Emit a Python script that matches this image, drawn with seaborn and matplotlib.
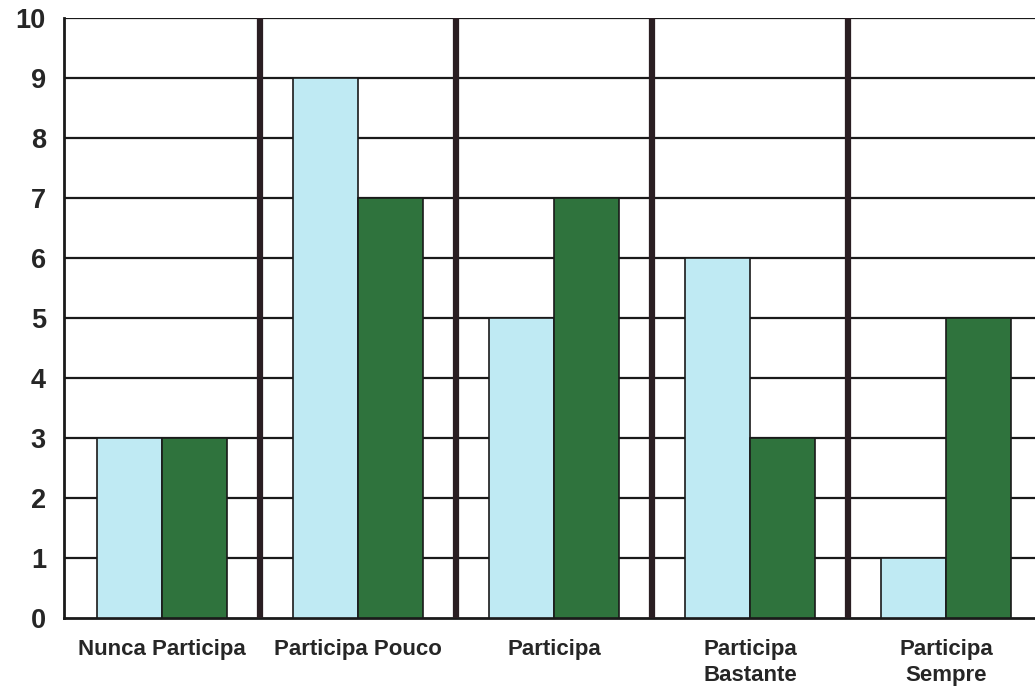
import matplotlib
matplotlib.use("Agg")
import matplotlib.pyplot as plt
import seaborn as sns
import pandas as pd
import numpy as np

categories = ["Nunca Participa", "Participa Pouco", "Participa",
              "Participa\nBastante", "Participa\nSempre"]
series_names = ["A", "B"]
values_a = [3, 9, 5, 6, 1]
values_b = [3, 7, 7, 3, 5]
y_ticks = list(range(0, 11))

df = pd.DataFrame({
    "categoria": categories * 2,
    "serie": [series_names[0]] * len(categories) + [series_names[1]] * len(categories),
    "valor": values_a + values_b,
})

sns.set_style("white")
plt.rcParams["font.family"] = ["Liberation Sans", "DejaVu Sans"]

fig = plt.figure(figsize=(10.35, 6.86), dpi=100)
fig.patch.set_facecolor("white")
ax = fig.add_axes([64 / 1035, 68 / 686, 980 / 1035, 600 / 686])

palette = {series_names[0]: "#bfeaf3", series_names[1]: "#2f733d"}
sns.barplot(data=df, x="categoria", y="valor", hue="serie", order=categories,
            hue_order=series_names, palette=palette, width=0.663, gap=0,
            edgecolor="#1a1a1a", linewidth=1.2, saturation=1, legend=False,
            ax=ax, zorder=3)

ax.set_ylim(0, 10)
ax.set_xlim(-0.5, len(categories) - 0.5)
ax.set_yticks(y_ticks)
ax.set_yticklabels([str(t) for t in y_ticks], fontsize=19.5, fontweight="bold")
ax.set_xlabel("")
ax.set_ylabel("")

# horizontal grid behind the bars
for t in y_ticks[1:]:
    ax.axhline(t, color="#1a1a1a", linewidth=1.6, zorder=1)

# thick separators between categories
for i in range(1, len(categories)):
    ax.axvline(i - 0.5, color="#2a1e22", linewidth=4.5, zorder=4)

ax.set_xticks(range(len(categories)))
ax.set_xticklabels(categories, fontsize=16, fontweight="bold", linespacing=1.3)
ax.set_xticks([i - 0.5 for i in range(1, len(categories))], minor=True)
ax.tick_params(axis="x", which="major", length=0, pad=15)
ax.tick_params(axis="x", which="minor", length=8, width=2, color="#1a1a1a")
ax.tick_params(axis="y", length=9, width=1.6, color="#1a1a1a", pad=4)
for lbl in ax.get_xticklabels():
    lbl.set_verticalalignment("top")

for side in ["top", "right"]:
    ax.spines[side].set_visible(False)
ax.spines["left"].set_linewidth(2)
ax.spines["left"].set_color("#1a1a1a")
ax.spines["bottom"].set_linewidth(2)
ax.spines["bottom"].set_color("#1a1a1a")
ax.spines["left"].set_zorder(5)

fig.savefig("out.png", dpi=100, facecolor="white")
